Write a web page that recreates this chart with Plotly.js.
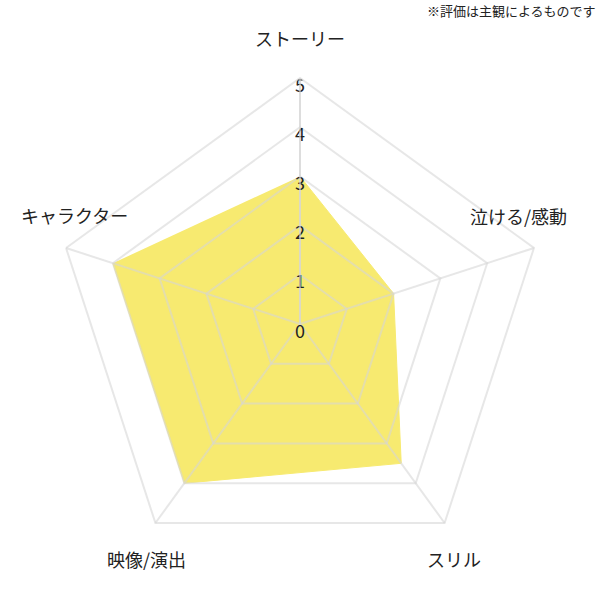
<!DOCTYPE html>
<html>
<head>
<meta charset="utf-8">
<script src="https://cdn.plot.ly/plotly-3.0.1.min.js"></script>
<style>html,body{margin:0;padding:0;background:#fff;}#chart{width:600px;height:600px;}</style>
</head>
<body>
<div id="chart"></div>
<script>
// ---- data ----
const categories = ['ストーリー', '泣ける/感動', 'スリル', '映像/演出', 'キャラクター'];
const scores = [3, 2, 3.5, 4, 4];
const tickValues = [0, 1, 2, 3, 4, 5];
const tickLabels = ['0', '1', '2', '3', '4', '5'];
const noteText = '※評価は主観によるものです';

// ---- styling (positions of the category labels, paper units) ----
const labelPos = [
  {x: 0.500, y: 1.081},
  {x: 0.945, y: 0.720},
  {x: 0.813, y: 0.023},
  {x: 0.188, y: 0.023},
  {x: 0.041, y: 0.721}
];
const FONT = 'Noto Sans CJK JP';
const gridCol = 'rgba(214,214,214,0.58)';
const fillCol = '#f7ea70';
const rRange = [0, 5];

const traces = [
  {
    type: 'scatterpolar', subplot: 'polar',
    r: scores, theta: categories,
    mode: 'lines', fill: 'toself',
    fillcolor: fillCol, line: {color: fillCol, width: 1},
    hoverinfo: 'skip', showlegend: false
  },
  {
    type: 'scatterpolar', subplot: 'polar2',
    r: scores, theta: categories,
    mode: 'none', hoverinfo: 'skip', showlegend: false
  },
  {
    type: 'scatterpolar', subplot: 'polar2',
    r: tickValues, theta: tickValues.map(() => categories[0]),
    mode: 'text', text: tickLabels, textposition: 'bottom center',
    textfont: {family: FONT, size: 18, color: '#222'},
    hoverinfo: 'skip', showlegend: false, cliponaxis: true
  }
];

const hiddenRadial = {range: rRange, showgrid: false, showline: false, showticklabels: false, ticks: ''};
const hiddenAngular = {type: 'category', categoryarray: categories, categoryorder: 'array',
  rotation: 90, direction: 'clockwise', showgrid: false, showline: false, showticklabels: false, ticks: ''};

const domain = {x: [0, 1], y: [0, 1]};
const layout = {
  width: 600, height: 600,
  margin: {l: 54, r: 54, t: 78, b: 30},
  paper_bgcolor: '#fff',
  font: {family: FONT, color: '#222', size: 17},
  showlegend: false,
  polar: {
    domain: domain, gridshape: 'linear', bgcolor: '#fff',
    radialaxis: hiddenRadial, angularaxis: hiddenAngular
  },
  polar2: {
    domain: domain, gridshape: 'linear', bgcolor: 'rgba(0,0,0,0)',
    radialaxis: {range: rRange, tickvals: tickValues, angle: 90,
      showgrid: true, gridcolor: gridCol, gridwidth: 2,
      showline: true, linecolor: gridCol, linewidth: 2, showticklabels: false, ticks: ''},
    angularaxis: {type: 'category', categoryarray: categories, categoryorder: 'array',
      rotation: 90, direction: 'clockwise', showgrid: true, gridcolor: gridCol, gridwidth: 2,
      showline: true, linecolor: gridCol, linewidth: 2, showticklabels: false, ticks: ''}
  },
  annotations: categories.map((c, i) => ({
    text: c, xref: 'paper', yref: 'paper', x: labelPos[i].x, y: labelPos[i].y,
    xanchor: 'center', yanchor: 'middle', showarrow: false,
    font: {family: FONT, size: 18, color: '#222'}
  })).concat([{
    text: noteText, xref: 'paper', yref: 'paper', x: 1.106, y: 1.138,
    xanchor: 'right', yanchor: 'middle', showarrow: false,
    font: {family: FONT, size: 13, color: '#222'}
  }])
};

Plotly.newPlot('chart', traces, layout, {staticPlot: true, displayModeBar: false});
</script>
</body>
</html>
